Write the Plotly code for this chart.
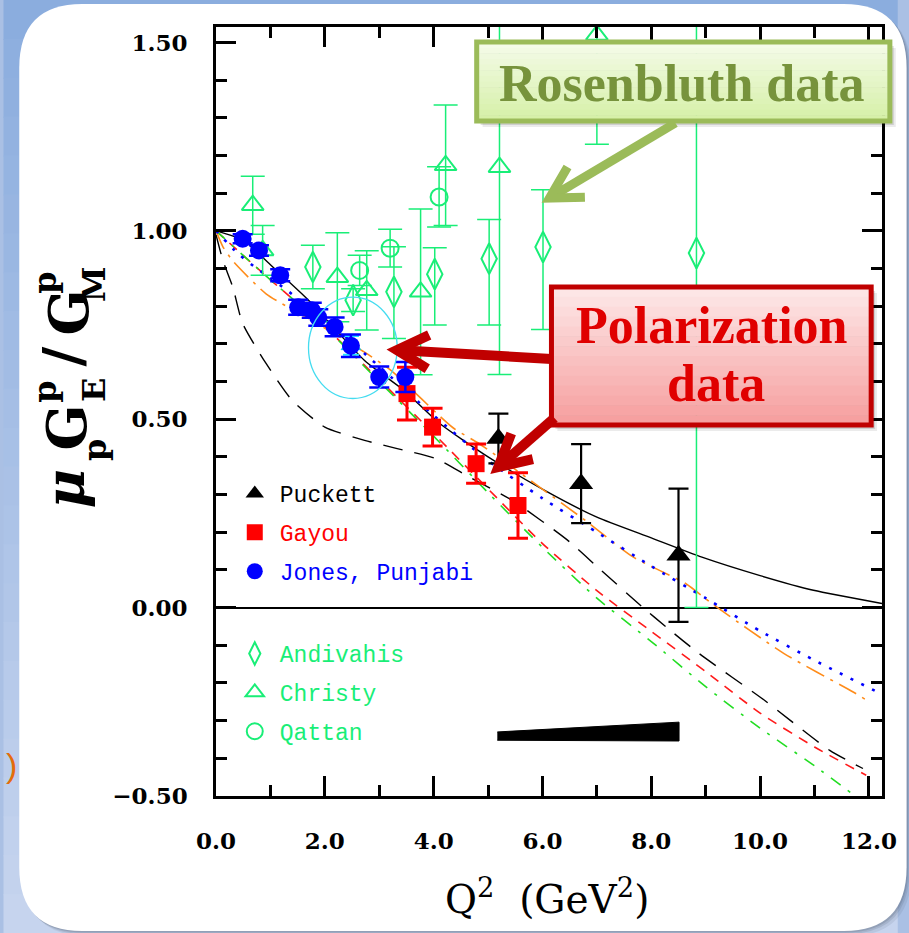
import math
import plotly.graph_objects as go

# ---------------- polarization-transfer data ----------------
jp_q = [0.49, 0.79, 1.18, 1.51, 1.76, 1.88, 2.18, 2.48, 3.00, 3.48]
jp_r = [0.979, 0.948, 0.882, 0.797, 0.789, 0.770, 0.745, 0.695, 0.612, 0.612]
jp_e = [0.012, 0.014, 0.016, 0.020, 0.020, 0.022, 0.025, 0.030, 0.028, 0.040]

gy_q = [3.51, 3.98, 4.78, 5.55]
gy_r = [0.568, 0.479, 0.382, 0.271]
gy_e = [0.070, 0.050, 0.052, 0.087]

pk_q = [5.19, 6.71, 8.50]
pk_r = [0.449, 0.329, 0.139]
pk_e = [0.066, 0.105, 0.177]

# Puckett systematic-uncertainty band
sys_q = [5.17, 8.51]
sys_lo = [-0.352, -0.354]
sys_hi = [-0.330, -0.304]

cy_q = [2.48]
cy_r = [0.696]
cy_e = [0.025]

# ---------------- Rosenbluth-separation data ----------------
ad_q = [1.78, 2.52, 3.27, 4.02, 5.02, 6.01, 8.83]
ad_r = [0.904, 0.816, 0.838, 0.885, 0.926, 0.957, 0.941]
ad_up = [0.058, 0.030, 0.120, 0.070, 0.104, 0.152, 0.940]
ad_dn = [0.058, 0.030, 0.124, 0.135, 0.176, 0.219, 0.941]

ch_q = [0.675, 0.857, 2.23, 2.77, 3.76, 4.22, 5.21, 7.00]
ch_r = [1.068, 0.948, 0.877, 0.842, 0.838, 1.174, 1.169, 1.520]
ch_e = [0.077, 0.066, 0.118, 0.105, 0.220, 0.160, 0.550, 0.290]

qt_q = [2.64, 3.20, 4.10]
qt_r = [0.895, 0.954, 1.090]
qt_e = [0.040, 0.050, 0.080]

# ---------------- model curves ----------------
bs_q = [0.0, 0.5, 1.0, 1.7, 2.73, 3.45, 4.1, 5.0, 6.04, 7.0, 8.0, 8.93, 10.0, 10.98, 12.24]
bs_r = [1.0, 0.975, 0.91, 0.816, 0.656, 0.577, 0.49, 0.40, 0.311, 0.24, 0.185, 0.134, 0.085, 0.046, 0.011]

bd_q = [0.0, 0.13, 0.31, 0.49, 0.92, 1.4, 2.0, 2.73, 3.33, 4.05, 4.65, 5.44, 6.46, 7.07, 7.85, 8.27, 8.88, 10.08, 11.28, 11.89]
bd_r = [0.99, 0.92, 0.85, 0.754, 0.648, 0.55, 0.479, 0.444, 0.422, 0.395, 0.347, 0.285, 0.179, 0.10, 0.0, -0.051, -0.122, -0.246, -0.379, -0.427]

rd_q = [0, 1, 2, 3, 4, 5, 6, 7, 8, 9, 10, 11, 11.95]
rd_r = [1.0, 0.87, 0.745, 0.605, 0.462, 0.315, 0.17, 0.045, -0.063, -0.17, -0.28, -0.37, -0.445]

gd_q = [0, 1, 2, 3, 4, 5, 6, 7, 8, 9, 10, 11, 11.7]
gd_r = [1.0, 0.87, 0.745, 0.60, 0.455, 0.305, 0.16, 0.025, -0.09, -0.21, -0.32, -0.42, -0.495]

or_q = [0, 0.13, 0.31, 0.92, 1.76, 2.73, 3.21, 4.35, 4.84, 5.86, 6.8, 7.67, 8.63, 9.12, 10.44, 11.71, 11.95]
or_r = [1.0, 0.957, 0.92, 0.833, 0.762, 0.678, 0.63, 0.478, 0.435, 0.329, 0.23, 0.134, 0.064, 0.01, -0.122, -0.224, -0.245]

bl_q = [0, 0.4, 0.75, 1, 2, 3, 4, 5, 6, 7, 8, 9, 10, 11, 12.24]
bl_r = [1.0, 0.94, 0.90, 0.875, 0.765, 0.64, 0.51, 0.39, 0.29, 0.20, 0.11, 0.025, -0.062, -0.14, -0.23]

x_ticks = [0, 2, 4, 6, 8, 10, 12]
y_ticks = [-0.5, 0.0, 0.5, 1.0, 1.5]

# ---------------- page geometry (pixels) ----------------
FW, FH = 909, 933
L, R, T, B = 216, 893, 27, 796
PW, PH = R - L, B - T


def px(x):
    return (x - L) / PW


def py(y):
    return (B - y) / PH


GREEN = "#19ee77"
BLACK = "#000000"
RED = "#ff0000"
BLUE = "#0000ff"
MONO = "Liberation Mono"
SERIF = "DejaVu Serif"

fig = go.Figure()

curve_styles = [
    (bs_q, bs_r, BLACK, "solid", 1.4),
    (bd_q, bd_r, BLACK, "20px,12px", 1.4),
    (rd_q, rd_r, "#ff1a1a", "10px,8px", 1.6),
    (gd_q, gd_r, "#22dd22", "12px,9px,3px,9px", 1.6),
    (or_q, or_r, "#ff8c1a", "20px,7px,3px,7px", 1.6),
    (bl_q, bl_r, "#0000ff", "3px,9px", 2.6),
]
for q, r, c, d, w in curve_styles:
    fig.add_trace(go.Scatter(x=q, y=r, mode="lines", showlegend=False, hoverinfo="skip",
                             line=dict(color=c, dash=d, width=w, shape="spline", smoothing=0.6)))

# systematic band
fig.add_trace(go.Scatter(x=sys_q + sys_q[::-1], y=sys_hi + sys_lo[::-1], mode="lines",
                         fill="toself", fillcolor=BLACK, line=dict(color=BLACK, width=1),
                         showlegend=False, hoverinfo="skip"))


def eb(arr, color, thick, width, minus=None):
    d = dict(type="data", array=arr, color=color, thickness=thick, width=width, visible=True)
    if minus is not None:
        d["symmetric"] = False
        d["arrayminus"] = minus
    return d


def lab(text, color):
    return f"<span style='color:{color};font-family:{MONO}'>{text}</span>"


# Rosenbluth data (legend 2)
fig.add_trace(go.Scatter(x=ad_q, y=ad_r, mode="markers", name=lab("Andivahis", GREEN),
                         legend="legend2", legendgroup="ad",
                         marker=dict(symbol="diamond-tall-open", size=22, color=GREEN, line=dict(width=2, color=GREEN)),
                         error_y=eb(ad_up, GREEN, 1.5, 12, ad_dn)))
fig.add_trace(go.Scatter(x=ch_q, y=ch_r, mode="markers", name=lab("Christy", GREEN),
                         legend="legend2", legendgroup="ch",
                         marker=dict(symbol="triangle-up-open", size=19, color=GREEN, line=dict(width=2, color=GREEN)),
                         error_y=eb(ch_e, GREEN, 1.5, 12)))
fig.add_trace(go.Scatter(x=qt_q, y=qt_r, mode="markers", name=lab("Qattan", GREEN),
                         legend="legend2", legendgroup="qt",
                         marker=dict(symbol="circle-open", size=17, color=GREEN, line=dict(width=2, color=GREEN)),
                         error_y=eb(qt_e, GREEN, 1.5, 12)))

# polarization data (legend 1)
fig.add_trace(go.Scatter(x=cy_q, y=cy_r, mode="markers", showlegend=False,
                         marker=dict(symbol="triangle-up", size=17, color="#22e5ff", line=dict(width=1, color="#00c8f0")),
                         error_y=eb(cy_e, "#22e5ff", 2, 8)))
fig.add_trace(go.Scatter(x=pk_q, y=pk_r, mode="markers", name=lab("Puckett", BLACK),
                         legendgroup="pk",
                         marker=dict(symbol="triangle-up", size=21, color=BLACK),
                         error_y=eb(pk_e, BLACK, 2.2, 10)))
fig.add_trace(go.Scatter(x=gy_q, y=gy_r, mode="markers", name=lab("Gayou", RED),
                         legendgroup="gy",
                         marker=dict(symbol="square", size=17, color=RED),
                         error_y=eb(gy_e, RED, 3, 10)))
fig.add_trace(go.Scatter(x=jp_q, y=jp_r, mode="markers", name=lab("Jones,&nbsp;Punjabi", BLUE),
                         legendgroup="jp",
                         marker=dict(symbol="circle", size=18, color=BLUE),
                         error_y=eb(jp_e, BLUE, 2.5, 10)))

# ---------------- decorations ----------------
shapes = []

# blue page background, vertical gradient
n_bands = 24
top_c, bot_c = (139, 173, 222), (198, 212, 238)
for i in range(n_bands):
    f = i / (n_bands - 1)
    c = tuple(round(top_c[k] + (bot_c[k] - top_c[k]) * f) for k in range(3))
    y0 = i * FH / n_bands
    y1 = (i + 1) * FH / n_bands + 1
    shapes.append(dict(type="rect", xref="paper", yref="paper", layer="below",
                       x0=px(0), x1=px(FW), y0=py(y1), y1=py(y0),
                       fillcolor="rgb(%d,%d,%d)" % c, line=dict(width=0)))


def rrect(x0, y0, x1, y1, r):
    pts = [("M", x0 + r, y0), ("L", x1 - r, y0), ("Q", x1, y0, x1, y0 + r), ("L", x1, y1 - r),
           ("Q", x1, y1, x1 - r, y1), ("L", x0 + r, y1), ("Q", x0, y1, x0, y1 - r), ("L", x0, y0 + r),
           ("Q", x0, y0, x0 + r, y0)]
    out = []
    for p in pts:
        if p[0] == "Q":
            out.append("Q%.5f,%.5f %.5f,%.5f" % (px(p[1]), py(p[2]), px(p[3]), py(p[4])))
        else:
            out.append("%s%.5f,%.5f" % (p[0], px(p[1]), py(p[2])))
    return " ".join(out) + " Z"


# white slide panel with a soft shadow
for off, a in [(5, 0.10), (3, 0.15), (1.5, 0.2)]:
    shapes.append(dict(type="path", xref="paper", yref="paper", layer="below",
                       path=rrect(16 + off, 4 + off, 918 + off, 931 + off, 64),
                       fillcolor="rgba(70,80,100,%.2f)" % a, line=dict(width=0)))
shapes.append(dict(type="path", xref="paper", yref="paper", layer="below",
                   path=rrect(16, 4, 918, 931, 64), fillcolor="white", line=dict(width=0)))

# cyan ring around the low-Q2 points
shapes.append(dict(type="circle", xref="x", yref="y", x0=1.70, x1=3.33, y0=0.555, y1=0.824,
                   line=dict(color="#44dcf0", width=1.3), layer="above"))


def gradient_box(x0, y0, x1, y1, c_top, c_bot, border, bw, n=14):
    # drop shadow
    for off, a in [(6, 0.08), (4, 0.12), (2, 0.16)]:
        shapes.append(dict(type="rect", xref="paper", yref="paper", layer="above",
                           x0=px(x0 + off), x1=px(x1 + off), y0=py(y1 + off), y1=py(y0 + off),
                           fillcolor="rgba(0,0,0,%.2f)" % a, line=dict(width=0)))
    for i in range(n):
        f = i / (n - 1)
        c = tuple(round(c_top[k] + (c_bot[k] - c_top[k]) * f) for k in range(3))
        ya = y0 + (y1 - y0) * i / n
        yb = y0 + (y1 - y0) * (i + 1) / n + 0.5
        shapes.append(dict(type="rect", xref="paper", yref="paper", layer="above",
                           x0=px(x0), x1=px(x1), y0=py(yb), y1=py(ya),
                           fillcolor="rgb(%d,%d,%d)" % c, line=dict(width=0)))
    shapes.append(dict(type="rect", xref="paper", yref="paper", layer="above",
                       x0=px(x0), x1=px(x1), y0=py(y1), y1=py(y0),
                       fillcolor="rgba(0,0,0,0)", line=dict(color=border, width=bw)))


def arrow(x_start, y_start, x_tip, y_tip, color, width, head_len=36, head_ang=29):
    dx, dy = x_start - x_tip, y_start - y_tip
    n = math.hypot(dx, dy)
    ux, uy = dx / n, dy / n
    arms = []
    for s in (1, -1):
        a = math.radians(head_ang * s)
        vx = ux * math.cos(a) - uy * math.sin(a)
        vy = ux * math.sin(a) + uy * math.cos(a)
        arms.append((x_tip + vx * head_len, y_tip + vy * head_len))
    sx, sy = x_tip + ux * 3, y_tip + uy * 3
    shapes.append(dict(type="path", xref="paper", yref="paper", layer="above",
                       path="M%.5f,%.5f L%.5f,%.5f" % (px(x_start), py(y_start), px(sx), py(sy)),
                       line=dict(color=color, width=width)))
    shapes.append(dict(type="path", xref="paper", yref="paper", layer="above",
                       path="M%.5f,%.5f L%.5f,%.5f L%.5f,%.5f" % (px(arms[0][0]), py(arms[0][1]),
                                                                 px(x_tip), py(y_tip),
                                                                 px(arms[1][0]), py(arms[1][1])),
                       line=dict(color=color, width=width)))


gradient_box(481, 42, 901, 121, (244, 251, 232), (214, 240, 168), "#9bbb59", 5)
arrow(683, 123, 555, 198, "#9bbb59", 9)

gradient_box(557, 287, 882, 425, (253, 230, 230), (246, 160, 160), "#c00000", 5)
arrow(557, 359, 400, 350, "#c00000", 10, head_len=36, head_ang=28)
arrow(560, 418, 503, 467, "#c00000", 10, head_len=36, head_ang=28)

# ---------------- text ----------------
ann = []
ann.append(dict(xref="paper", yref="paper", x=px(690), y=py(84), text="<b>Rosenbluth data</b>",
                showarrow=False, font=dict(family="Liberation Serif", size=52, color="#77933c"),
                xanchor="center", yanchor="middle"))
ann.append(dict(xref="paper", yref="paper", x=px(720), y=py(326), text="<b>Polarization</b>",
                showarrow=False, font=dict(family="Liberation Serif", size=52, color="#e00000"),
                xanchor="center", yanchor="middle"))
ann.append(dict(xref="paper", yref="paper", x=px(724), y=py(383), text="<b>data</b>",
                showarrow=False, font=dict(family="Liberation Serif", size=52, color="#e00000"),
                xanchor="center", yanchor="middle"))

ann.append(dict(xref="paper", yref="paper", x=px(552), y=py(897),
                text="Q<sup>2</sup>&nbsp; (GeV<sup>2</sup>)", showarrow=False,
                font=dict(family=SERIF, size=39, color="black"),
                xanchor="center", yanchor="middle"))

# stacked y-axis label, rotated piece by piece
ylab = [
    ("<i>μ</i>", 63, 488, 54),
    ("p", 93, 450, 32),
    ("G", 65, 427, 54),
    ("p", 42, 392, 32),
    ("E", 92, 390, 32),
    ("/", 60, 357, 54),
    ("G", 67, 312, 54),
    ("p", 42, 283, 32),
    ("M", 92, 285, 32),
]
for t, x, y, s in ylab:
    ann.append(dict(xref="paper", yref="paper", x=px(x), y=py(y), text=t, textangle=-90,
                    showarrow=False, font=dict(family=SERIF, size=s, color="black", weight="bold"),
                    xanchor="center", yanchor="middle"))

ann.append(dict(xref="paper", yref="paper", x=px(8), y=py(765), text=")", showarrow=False,
                font=dict(family="Liberation Sans", size=34, color="#e46c0a"),
                xanchor="center", yanchor="middle"))

axis_common = dict(showline=True, linecolor="black", linewidth=2.5, mirror="allticks",
                   ticks="inside", ticklen=20, tickwidth=2.5, tickcolor="black",
                   showgrid=False,
                   tickfont=dict(family=SERIF, size=23, color="black", weight="bold"))

legend_common = dict(xanchor="left", yanchor="top", bgcolor="rgba(0,0,0,0)",
                     font=dict(family=MONO, size=23, color="black"),
                     traceorder="grouped", tracegroupgap=6, itemwidth=40)

fig.update_layout(
    width=FW, height=FH,
    margin=dict(l=L, r=FW - R, t=T, b=FH - B, pad=0),
    paper_bgcolor="rgb(170,192,228)",
    plot_bgcolor="rgba(0,0,0,0)",
    shapes=shapes,
    annotations=ann,
    xaxis=dict(range=[0, 12.24], tickvals=x_ticks, tickformat=".1f", zeroline=False,
               minor=dict(dtick=1, tick0=0, ticks="inside", ticklen=11, tickwidth=2.5, tickcolor="black"),
               ticklabelstandoff=23, **axis_common),
    yaxis=dict(range=[-0.5, 1.541], tickvals=y_ticks, tickformat=".2f",
               zeroline=True, zerolinecolor="black", zerolinewidth=2,
               minor=dict(dtick=0.1, tick0=0, ticks="inside", ticklen=11, tickwidth=2.5, tickcolor="black"),
               ticklabelstandoff=21, **axis_common),
    legend=dict(x=px(230), y=py(472), **legend_common),
    legend2=dict(x=px(230), y=py(632), **legend_common),
    showlegend=True,
)

fig.write_html("out.html")
